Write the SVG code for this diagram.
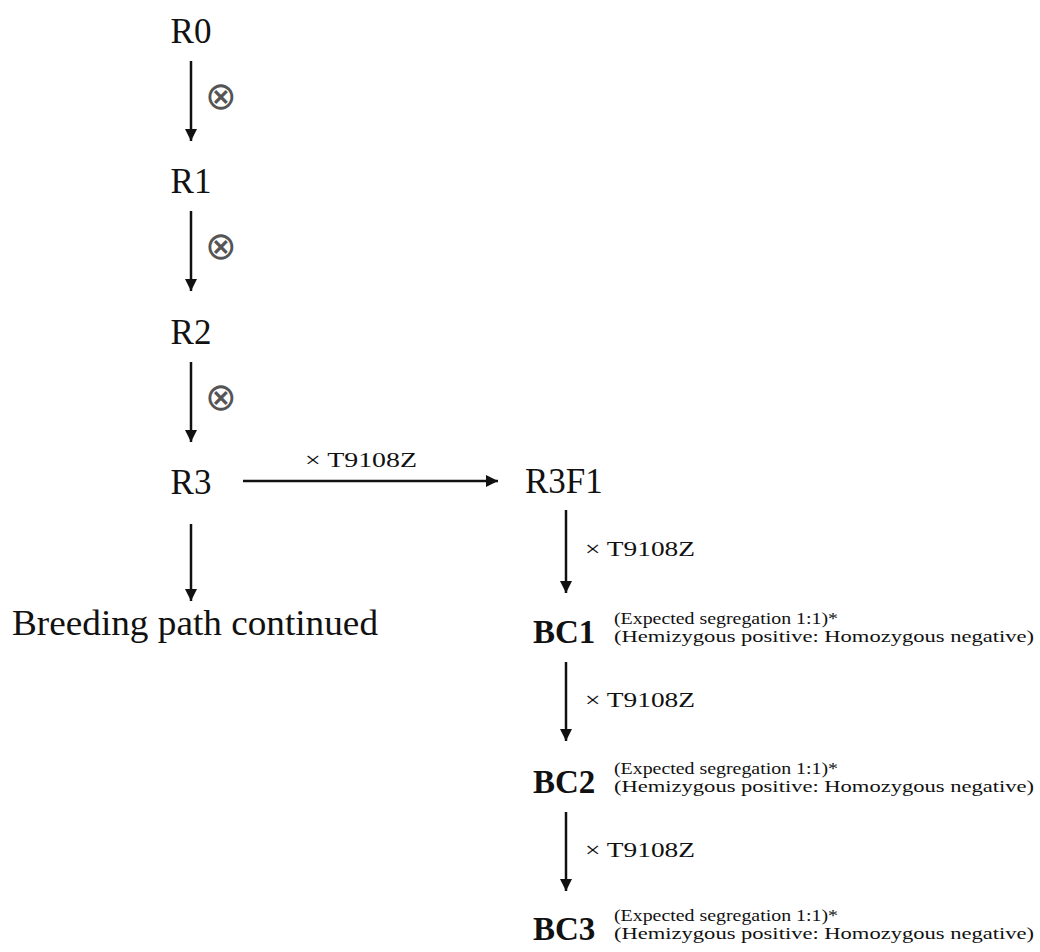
<svg xmlns="http://www.w3.org/2000/svg" width="1040" height="952" viewBox="0 0 1040 952">
<style>
.n{font-family:"Liberation Serif","Times New Roman",serif;font-size:35px;fill:#111}
.b{font-family:"Liberation Serif","Times New Roman",serif;font-size:33px;font-weight:bold;fill:#111}
.l{font-family:"Liberation Serif","Times New Roman",serif;font-size:22px;fill:#111}
.s{font-family:"Liberation Serif","Times New Roman",serif;font-size:16px;fill:#111}
.o{font-family:"DejaVu Sans",sans-serif;font-size:38px;fill:#555}
.c{stroke:#111;stroke-width:2.5;fill:none;marker-end:url(#ah)}
</style>
<defs>
<marker id="ah" viewBox="0 0 10 10" refX="10" refY="5" markerWidth="5" markerHeight="5" orient="auto" markerUnits="strokeWidth">
<path d="M0,0 L10,5 L0,10 z" fill="#111"/>
</marker>
</defs>
<g id="connectors">
<line class="c" x1="191" y1="61" x2="191" y2="141"/>
<line class="c" x1="191" y1="211" x2="191" y2="291"/>
<line class="c" x1="191" y1="362" x2="191" y2="442"/>
<line class="c" x1="191" y1="524" x2="191" y2="601"/>
<line class="c" x1="243" y1="481" x2="498" y2="481"/>
<line class="c" x1="566" y1="510" x2="566" y2="593"/>
<line class="c" x1="566" y1="662" x2="566" y2="741"/>
<line class="c" x1="566" y1="812" x2="566" y2="891"/>
<text class="o" x="221" y="109" text-anchor="middle">⊗</text>
<text class="o" x="221" y="259" text-anchor="middle">⊗</text>
<text class="o" x="221" y="410" text-anchor="middle">⊗</text>
<text class="l" x="305" y="467" textLength="112" lengthAdjust="spacingAndGlyphs">× T9108Z</text>
<text class="l" x="585" y="556" textLength="110" lengthAdjust="spacingAndGlyphs">× T9108Z</text>
<text class="l" x="585" y="707" textLength="110" lengthAdjust="spacingAndGlyphs">× T9108Z</text>
<text class="l" x="585" y="857" textLength="110" lengthAdjust="spacingAndGlyphs">× T9108Z</text>
</g>
<g id="R0"><text class="n" x="191" y="43" text-anchor="middle">R0</text></g>
<g id="R1"><text class="n" x="191" y="193" text-anchor="middle">R1</text></g>
<g id="R2"><text class="n" x="191" y="344" text-anchor="middle">R2</text></g>
<g id="R3"><text class="n" x="191" y="494" text-anchor="middle">R3</text></g>
<g id="continued"><text class="n" x="12" y="635" textLength="366" lengthAdjust="spacingAndGlyphs">Breeding path continued</text></g>
<g id="R3F1"><text class="n" x="525" y="493">R3F1</text></g>
<g id="BC1">
<text class="b" x="533" y="643">BC1</text>
<text class="s" x="614" y="624" textLength="224" lengthAdjust="spacingAndGlyphs">(Expected segregation 1:1)*</text>
<text class="s" x="614" y="642" textLength="420" lengthAdjust="spacingAndGlyphs">(Hemizygous positive: Homozygous negative)</text>
</g>
<g id="BC2">
<text class="b" x="533" y="793">BC2</text>
<text class="s" x="614" y="774" textLength="224" lengthAdjust="spacingAndGlyphs">(Expected segregation 1:1)*</text>
<text class="s" x="614" y="792" textLength="420" lengthAdjust="spacingAndGlyphs">(Hemizygous positive: Homozygous negative)</text>
</g>
<g id="BC3">
<text class="b" x="533" y="940">BC3</text>
<text class="s" x="614" y="921" textLength="224" lengthAdjust="spacingAndGlyphs">(Expected segregation 1:1)*</text>
<text class="s" x="614" y="939" textLength="420" lengthAdjust="spacingAndGlyphs">(Hemizygous positive: Homozygous negative)</text>
</g>
</svg>
